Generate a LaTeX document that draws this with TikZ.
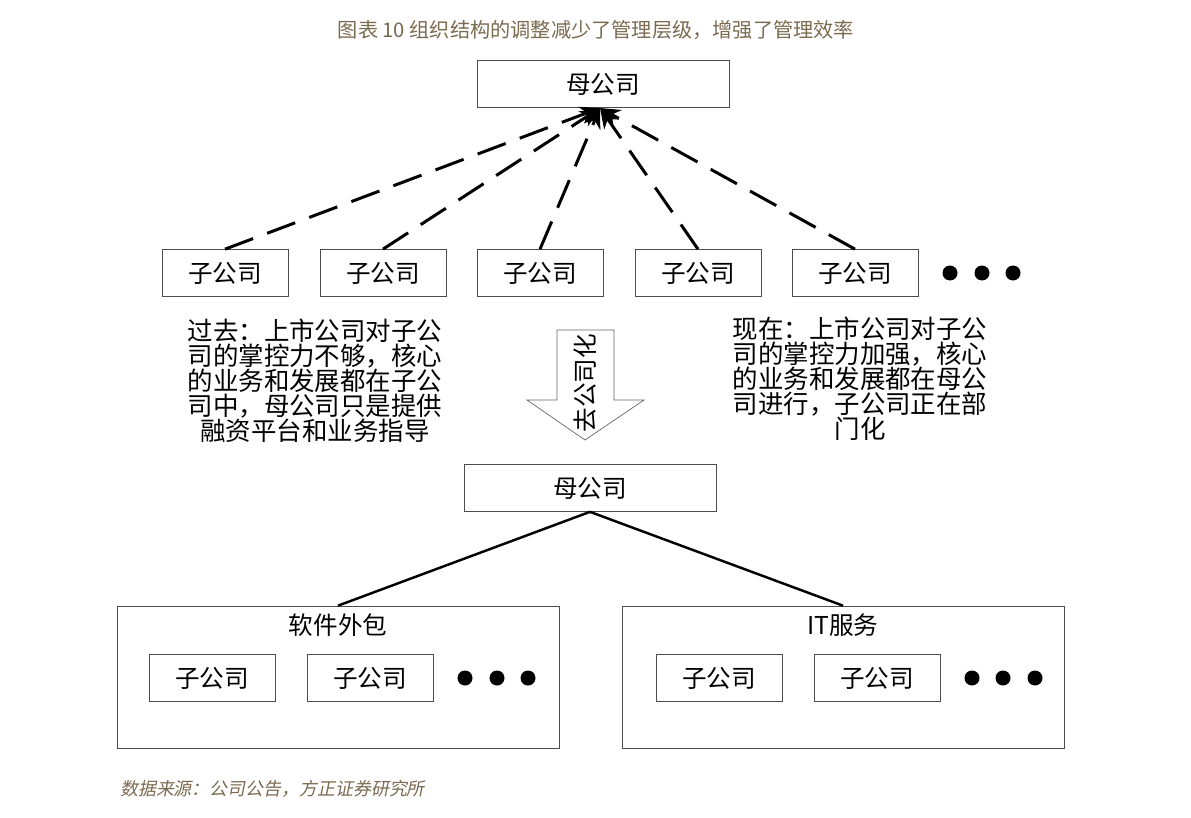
\documentclass[tikz,border=0pt]{standalone}
\usepackage{fontspec}
\setmainfont{Noto Sans CJK SC}
\newfontfamily\slantcjk[FakeSlant=0.2]{Noto Sans CJK SC}
\usetikzlibrary{arrows.meta}
\definecolor{titlebrown}{HTML}{7A6A4F}
\begin{document}
\begin{tikzpicture}[x=0.02cm, y=-0.02cm, every node/.style={font=\fontsize{14}{19}\selectfont}]
			\useasboundingbox (0,0) rectangle (1191,818);
			\tikzset{
				box/.style={draw=black!70, minimum width=2.52cm, minimum height=0.94cm, inner sep=0pt},
				bigbox/.style={draw=black!70, minimum width=5.04cm, minimum height=0.94cm, inner sep=0pt},
				group/.style={draw=black!70, minimum width=8.84cm, minimum height=2.84cm, inner sep=0pt},
				dot/.style={circle, fill=black, minimum size=0.3cm, inner sep=0pt},
				link/.style={line width=1.7pt, dash pattern=on 0.6cm off 0.3cm}
			}
			% Title and source
			\node[text=titlebrown, font=\fontsize{11.5}{14}\selectfont] (title) at (596,30) {图表 10 组织结构的调整减少了管理层级，增强了管理效率};
			\node[text=titlebrown, anchor=west, font=\fontsize{10.2}{12}\selectfont] (source) at (114,789) {\slantcjk 数据来源：公司公告，方正证券研究所};
			
			% Old structure
			\node[bigbox] (top) at (603,84) {母公司};
			\node[box] (s1) at (225,273) {子公司};
			\node[box] (s2) at (383,273) {子公司};
			\node[box] (s3) at (540,273) {子公司};
			\node[box] (s4) at (698,273) {子公司};
			\node[box] (s5) at (855,273) {子公司};
			\foreach \x in {950,982,1013} \node[dot] at (\x,273) {};
			\coordinate (apex) at (600,108);
			\foreach \s/\x in {s1/225,s2/383,s3/540,s4/698,s5/855}
				\draw[link, -{Stealth[length=0.4cm, width=0.35cm]}] (\s.north) -- (apex);
			
			% Texts
			\node[align=center, font=\fontsize{14.5}{14.2}\selectfont] (past) at (315,381) {过去：上市公司对子公\\司的掌控力不够，核心\\的业务和发展都在子公\\司中，母公司只是提供\\融资平台和业务指导};
			\node[align=center, font=\fontsize{14.5}{14.2}\selectfont] (now) at (860,379) {现在：上市公司对子公\\司的掌控力加强，核心\\的业务和发展都在母公\\司进行，子公司正在部\\门化};
			
			% Arrow
			\draw[black!60, fill=white] (557,330) -- (614,330) -- (614,400) -- (644,400) -- (585,440) -- (527,400) -- (557,400) -- cycle;
			\node[rotate=90] (tag) at (585,383) {去公司化};
			
			% New structure
			\node[bigbox] (mid) at (590,488) {母公司};
			\node[group] (g1) at (338,677) {};
			\node[group] (g2) at (843,677) {};
			\node (g1t) at (338,625) {软件外包};
			\node (g2t) at (843,625) {IT服务};
			\draw[line width=1.4pt] (mid.south) -- (g1.north);
			\draw[line width=1.4pt] (mid.south) -- (g2.north);
			\node[box] (a1) at (212,678) {子公司};
			\node[box] (a2) at (370,678) {子公司};
			\node[box] (b1) at (719,678) {子公司};
			\node[box] (b2) at (877,678) {子公司};
			\foreach \x in {465,497,528,972,1003,1035} \node[dot] at (\x,678) {};
		\end{tikzpicture}
\end{document}
